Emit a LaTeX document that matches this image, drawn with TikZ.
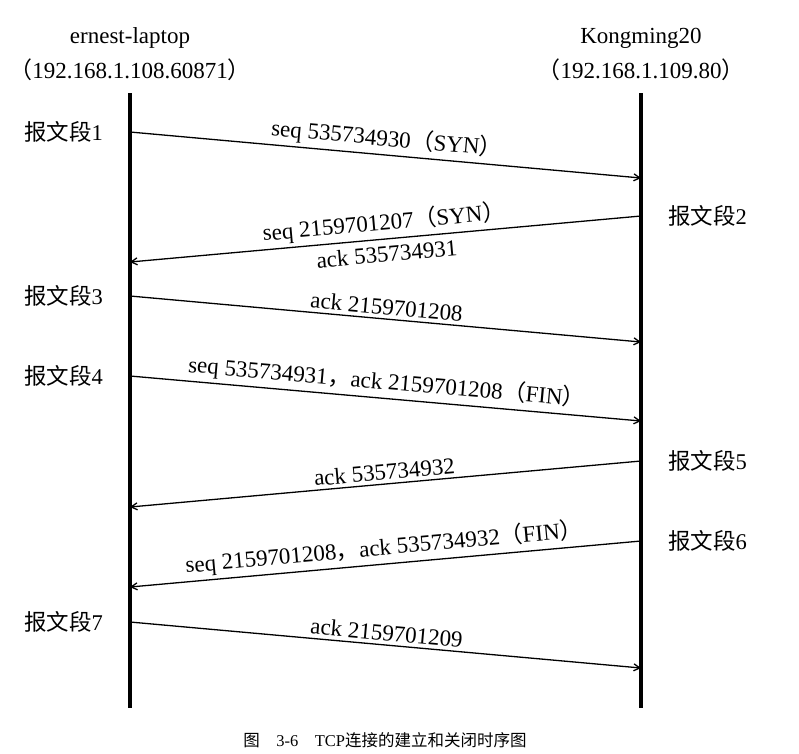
\documentclass[tikz,border=0pt]{standalone}
\usepackage{fontspec}
\setmainfont{Liberation Serif}
\newfontfamily\cjk{Noto Sans CJK SC}
\newcommand{\zh}[1]{{\cjk #1}}
\usetikzlibrary{arrows.meta}
\usetikzlibrary{positioning}

\begin{document}
\begin{tikzpicture}[x=1pt,y=-1pt,
  font=\fontsize{23}{26}\selectfont,
  lifeline/.style={line width=4pt},
  message/.style={line width=1.3pt,-{Straight Barb[length=6pt,width=7pt]}},
  msglabel/.style={sloped,midway,inner sep=1.5pt},
  segment/.style={inner sep=0pt,font=\fontsize{22.5}{26}\selectfont}]
 \useasboundingbox (0,0) rectangle (799,753);

 \coordinate (laptop_top) at (130,93);
 \coordinate (laptop_bot) at (130,708);
 \coordinate (server_top) at (641,93);
 \coordinate (server_bot) at (641,708);

 \node[name=laptop_ip  ] at (130,70) {\zh{（}192.168.1.108.60871\zh{）}};
 \node[name=laptop     ] at (130,38) {ernest-laptop};
 \node[name=server_ip  ] at (641,70) {\zh{（}192.168.1.109.80\zh{）}};
 \node[name=server     ] at (641,38) {Kongming20};

 \draw[lifeline] (laptop_top) -- (laptop_bot);
 \draw[lifeline] (server_top) -- (server_bot);

 % end points of the segments
 \coordinate (s1_out) at (130,132);  \coordinate (s1_in) at (641,178);
 \coordinate (s2_out) at (641,216);  \coordinate (s2_in) at (130,262);
 \coordinate (s3_out) at (130,296);  \coordinate (s3_in) at (641,342);
 \coordinate (s4_out) at (130,376);  \coordinate (s4_in) at (641,421);
 \coordinate (s5_out) at (641,461);  \coordinate (s5_in) at (130,507);
 \coordinate (s6_out) at (641,541);  \coordinate (s6_in) at (130,587);
 \coordinate (s7_out) at (130,622);  \coordinate (s7_in) at (641,668);

 \node[segment,left=27pt of s1_out,  name=seg1] {\zh{报文段}1};
 \node[segment,right=27pt of s2_out, name=seg2] {\zh{报文段}2};
 \node[segment,left=27pt of s3_out,  name=seg3] {\zh{报文段}3};
 \node[segment,left=27pt of s4_out,  name=seg4] {\zh{报文段}4};
 \node[segment,right=27pt of s5_out, name=seg5] {\zh{报文段}5};
 \node[segment,right=27pt of s6_out, name=seg6] {\zh{报文段}6};
 \node[segment,left=27pt of s7_out,  name=seg7] {\zh{报文段}7};

 \draw[message] (s1_out) to node[msglabel,above=2pt] {seq 535734930\zh{（}SYN\zh{）}} (s1_in);
 \draw[message] (s2_out) to node[msglabel,above=2pt] {seq 2159701207\zh{（}SYN\zh{）}}
                            node[msglabel,below=5pt] {ack 535734931} (s2_in);
 \draw[message] (s3_out) to node[msglabel,above=2pt] {ack 2159701208} (s3_in);
 \draw[message] (s4_out) to node[msglabel,above=2pt] {seq 535734931\zh{，}ack 2159701208\zh{（}FIN\zh{）}} (s4_in);
 \draw[message] (s5_out) to node[msglabel,above=2pt] {ack 535734932} (s5_in);
 \draw[message] (s6_out) to node[msglabel,above=2pt] {seq 2159701208\zh{，}ack 535734932\zh{（}FIN\zh{）}} (s6_in);
 \draw[message] (s7_out) to node[msglabel,above=2pt] {ack 2159701209} (s7_in);

 \node[name=caption,font=\fontsize{16.5}{19}\selectfont] at (385,740)
   {\zh{图}\quad 3-6\quad TCP\zh{连接的建立和关闭时序图}};
\end{tikzpicture}
\end{document}
